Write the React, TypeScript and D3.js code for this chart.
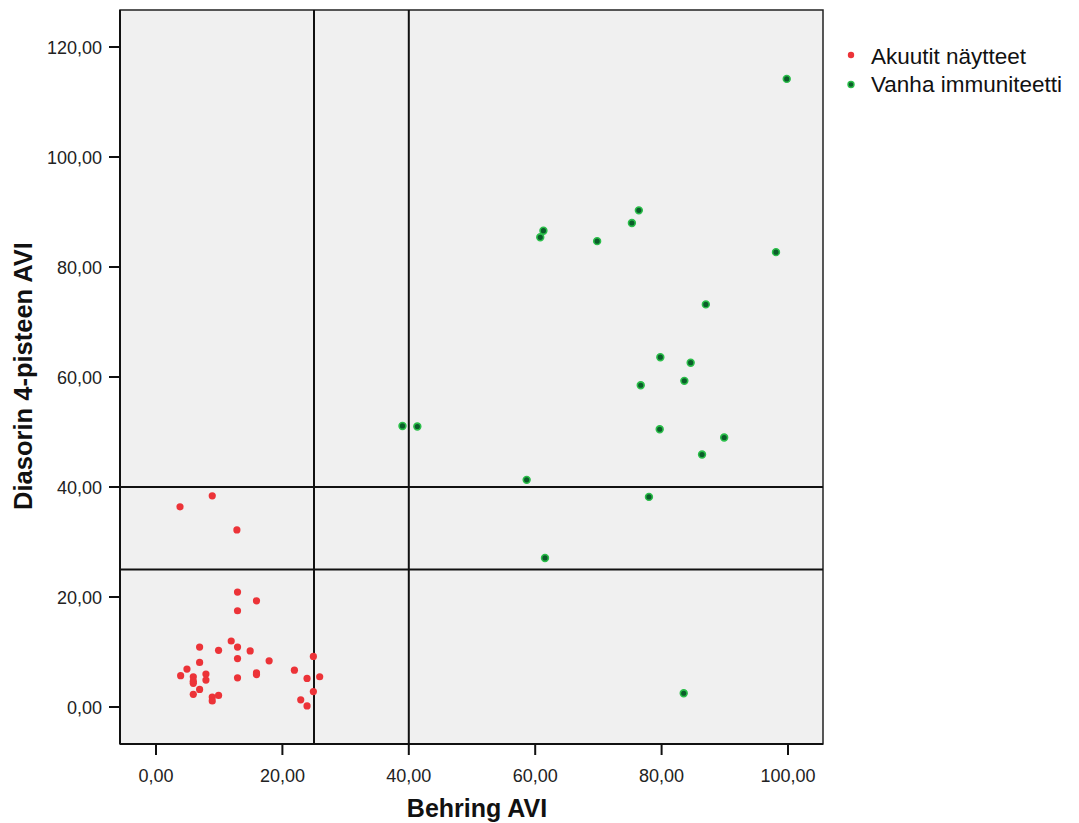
import React from "react";
import * as d3 from "d3";

const acuteX = [12.9, 15.9, 12.9, 11.9, 6.9, 9.9, 12.9, 14.9, 12.9, 17.9, 6.9, 4.9, 3.9, 5.9, 7.9, 5.9, 5.9, 7.9, 12.9, 15.9, 15.9, 6.9, 5.9, 9.9, 8.9, 8.9, 21.9, 24.9, 23.9, 25.9, 24.9, 22.9, 23.9, 3.8, 8.9, 12.8];
const acuteY = [20.9, 19.3, 17.5, 12.0, 10.9, 10.3, 10.9, 10.2, 8.8, 8.4, 8.1, 6.9, 5.7, 5.5, 6.0, 4.7, 4.3, 4.9, 5.3, 6.2, 5.9, 3.2, 2.3, 2.1, 1.8, 1.1, 6.7, 9.2, 5.2, 5.5, 2.8, 1.3, 0.2, 36.4, 38.4, 32.2];
const oldX = [39.0, 41.35, 58.65, 60.8, 61.3, 69.8, 75.3, 76.4, 98.1, 87.0, 79.8, 84.6, 76.7, 83.6, 79.7, 89.9, 86.4, 78.0, 61.55, 83.5, 99.8];
const oldY = [51.1, 51.0, 41.3, 85.4, 86.6, 84.7, 88.0, 90.3, 82.7, 73.2, 63.6, 62.6, 58.5, 59.3, 50.5, 49.0, 45.9, 38.2, 27.1, 2.5, 114.2];
const xTicks = [0, 20, 40, 60, 80, 100];
const yTicks = [0, 20, 40, 60, 80, 100, 120];
const vLines = [25, 40];
const hLines = [25, 40];
const legendLabels = ["Akuutit näytteet", "Vanha immuniteetti"];

const L = 120, R = 823, T = 10, B = 744;
const x = d3.scaleLinear().domain([0, 100]).range([156, 788]);
const y = d3.scaleLinear().domain([0, 120]).range([707, 47]);
const fmt = (v: number) => v.toFixed(2).replace(".", ",");
const FONT = "'Liberation Sans', Arial, sans-serif";

export default function App() {
  return (
    <svg width={1079} height={823} style={{ position: "absolute", left: 0, top: 0, background: "#fff" }} fontFamily={FONT}>
      <rect x={L} y={T} width={R - L} height={B - T} fill="#f0f0f0" stroke="#222" strokeWidth={1.5} />
      {vLines.map((v) => (
        <line key={"v" + v} x1={x(v)} x2={x(v)} y1={T} y2={B} stroke="#111" strokeWidth={2} />
      ))}
      {hLines.map((v) => (
        <line key={"h" + v} x1={L} x2={R} y1={y(v)} y2={y(v)} stroke="#111" strokeWidth={2} />
      ))}
      <line x1={L} x2={L} y1={T} y2={B} stroke="#111" strokeWidth={2} />
      <line x1={L} x2={R} y1={B} y2={B} stroke="#111" strokeWidth={2} />
      {xTicks.map((t) => (
        <g key={"xt" + t}>
          <line x1={x(t)} x2={x(t)} y1={B} y2={B + 11} stroke="#111" strokeWidth={2} />
          <text x={x(t)} y={782} textAnchor="middle" fontSize={18} fill="#222">{fmt(t)}</text>
        </g>
      ))}
      {yTicks.map((t) => (
        <g key={"yt" + t}>
          <line x1={L - 11} x2={L} y1={y(t)} y2={y(t)} stroke="#111" strokeWidth={2} />
          <text x={102} y={y(t) + 7} textAnchor="end" fontSize={18} fill="#222">{fmt(t)}</text>
        </g>
      ))}
      <text x={477} y={817} textAnchor="middle" fontSize={25} fontWeight="bold" fill="#111">Behring AVI</text>
      <text transform={`translate(32,376) rotate(-90)`} textAnchor="middle" fontSize={25.5} fontWeight="bold" fill="#111">Diasorin 4-pisteen AVI</text>
      {acuteX.map((v, i) => (
        <circle key={"a" + i} cx={x(v)} cy={y(acuteY[i])} r={3.6} fill="#ec3338" />
      ))}
      {oldX.map((v, i) => (
        <circle key={"o" + i} cx={x(v)} cy={y(oldY[i])} r={3.4} fill="#0b5d2a" stroke="#2bbf4a" strokeWidth={1.6} />
      ))}
      <circle cx={851} cy={55} r={3.2} fill="#ec3338" />
      <text x={871} y={64} fontSize={22.5} fill="#111">{legendLabels[0]}</text>
      <circle cx={851} cy={84.5} r={3} fill="#0b5d2a" stroke="#2bbf4a" strokeWidth={1.4} />
      <text x={871} y={92} fontSize={22.5} fill="#111">{legendLabels[1]}</text>
    </svg>
  );
}
